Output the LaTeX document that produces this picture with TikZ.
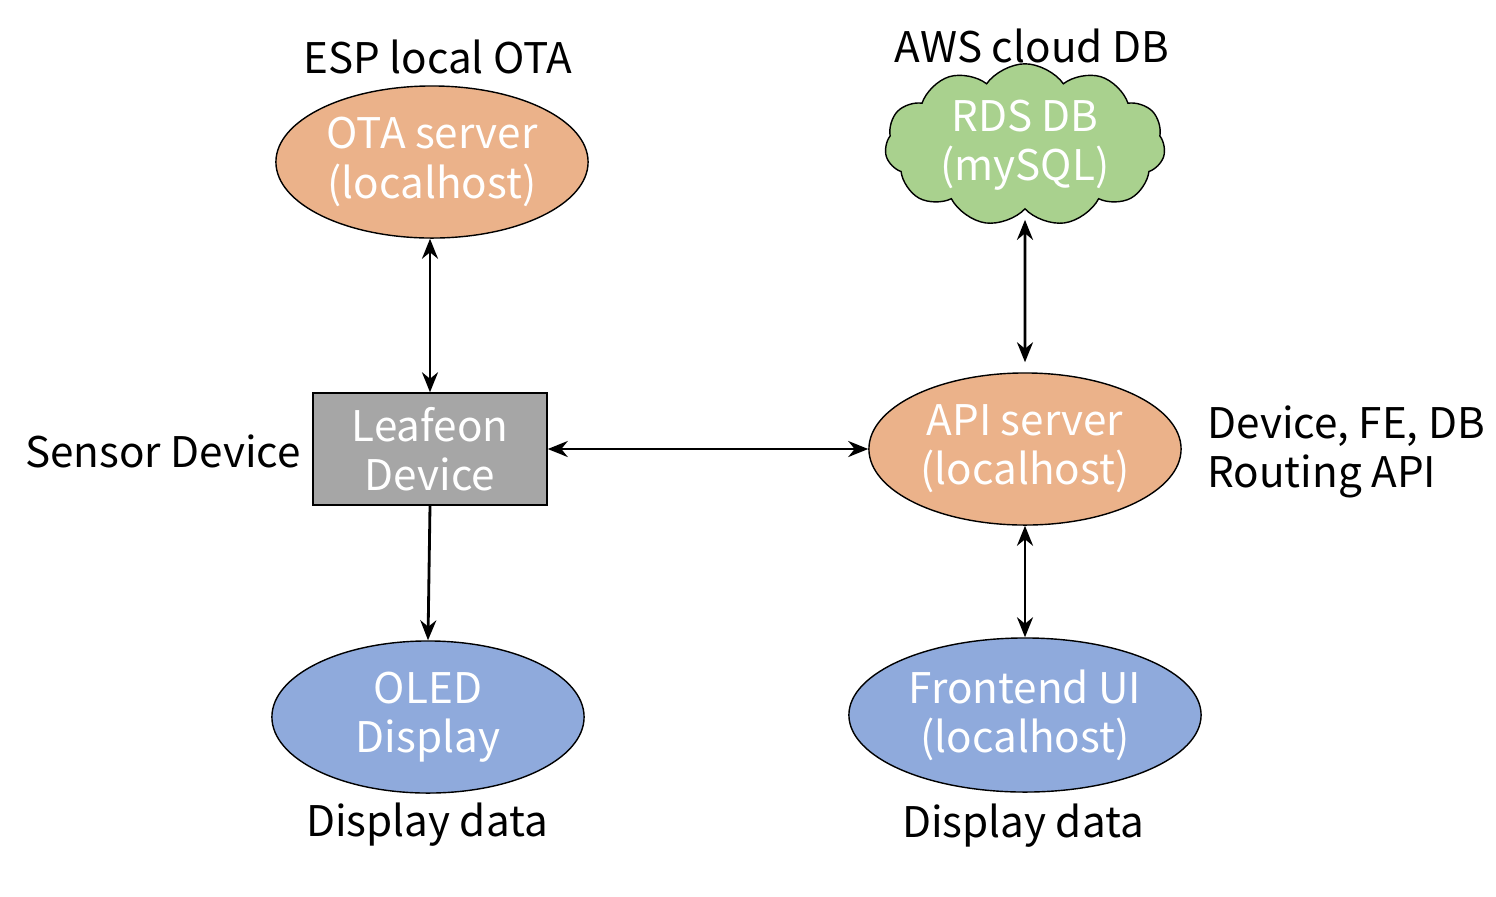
\documentclass[tikz,border=0pt]{standalone}
\usepackage{fontspec}
\setmainfont{Noto Sans CJK KR}
\usetikzlibrary{shapes.geometric,shapes.symbols,arrows.meta}
\definecolor{orng}{HTML}{EBB28A}
\definecolor{grn}{HTML}{A9D18E}
\definecolor{blu}{HTML}{8FAADC}
\definecolor{gry}{HTML}{A6A6A6}
\tikzset{
  ell/.style={ellipse,draw=black,thin,text=white,align=center,font=\fontsize{12}{14}\selectfont,inner sep=0pt},
  lbl/.style={font=\fontsize{12}{14}\selectfont,align=left},
  arr/.style={thick,{Stealth[length=2mm,width=1.6mm]}-{Stealth[length=2mm,width=1.6mm]}},
  sarr/.style={thick,-{Stealth[length=2mm,width=1.6mm]}}
}
\begin{document}
\begin{tikzpicture}[x=0.01cm,y=-0.01cm]
\useasboundingbox (0,0) rectangle (1496,896);
\node[ell,fill=orng,minimum width=3.12cm,minimum height=1.52cm] (ota) at (432,162) {OTA server\\(localhost)};
\node[lbl] (otal) at (438,57) {ESP local OTA};
\node[cloud,cloud puffs=11,cloud puff arc=110,aspect=1.8,draw=black,thin,fill=grn,text=white,align=center,font=\fontsize{12}{14}\selectfont,minimum width=2.8cm,minimum height=1.5cm,inner sep=0pt] (rds) at (1025,145) {RDS DB\\(mySQL)};
\node[lbl] (rdsl) at (1032,46) {AWS cloud DB};
\node[draw=black,thin,fill=gry,text=white,align=center,font=\fontsize{12}{14}\selectfont,minimum width=2.34cm,minimum height=1.12cm] (dev) at (430,449) {Leafeon\\Device};
\node[lbl] (devl) at (163,451) {Sensor Device};
\node[ell,fill=orng,minimum width=3.12cm,minimum height=1.52cm] (api) at (1025,449) {API server\\(localhost)};
\node[lbl,anchor=west] (apil) at (1195,452) {Device, FE, DB\\Routing API};
\node[ell,fill=blu,minimum width=3.12cm,minimum height=1.52cm] (oled) at (428,717) {OLED\\Display};
\node[lbl] (oledl) at (427,825) {Display data};
\node[ell,fill=blu,minimum width=3.52cm,minimum height=1.54cm] (fe) at (1025,715) {Frontend UI\\(localhost)};
\node[lbl] (fel) at (1023,826) {Display data};
\draw[arr] (ota.south -| dev.north) -- (dev.north);
\draw[arr] (dev.east) -- (api.west);
\draw[arr] ([yshift=1mm]api.north) -- ([yshift=-1mm]rds.south);
\draw[arr] (api.south) -- (fe.north);
\draw[sarr] (dev.south) -- (oled.north);
\end{tikzpicture}
\end{document}
